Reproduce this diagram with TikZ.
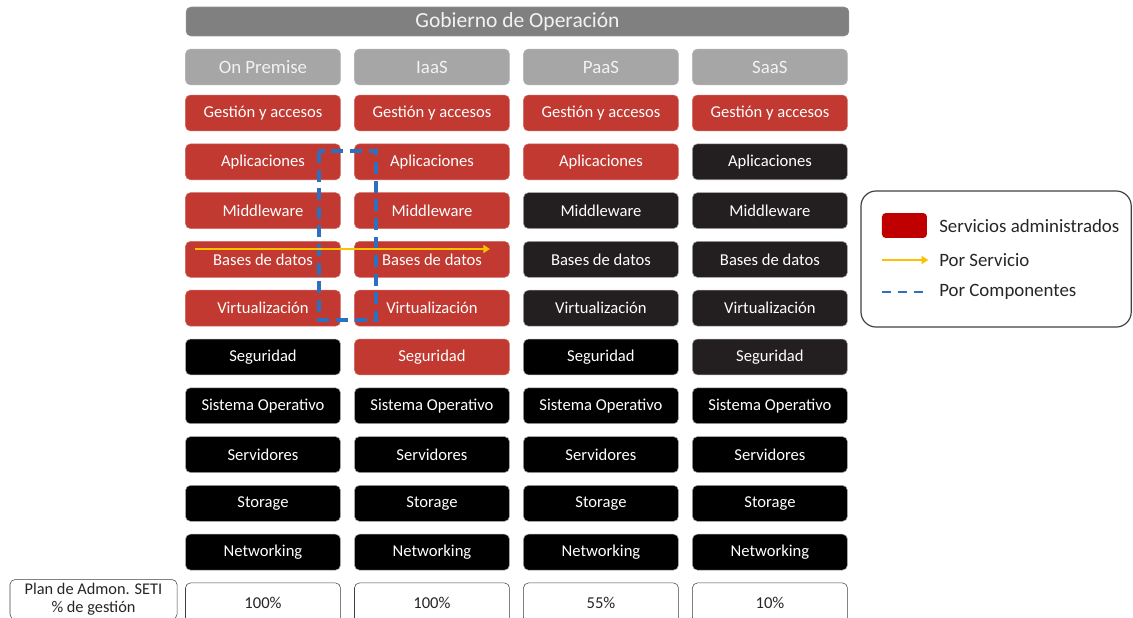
\documentclass[tikz,border=0pt]{standalone}
\usepackage{fontspec}
\setmainfont{Carlito}
\usetikzlibrary{arrows.meta,positioning}

\definecolor{rojo}{RGB}{193,57,48}
\definecolor{rojoley}{RGB}{192,0,0}
\definecolor{oscuro}{RGB}{35,31,32}
\definecolor{gris}{RGB}{166,166,166}
\definecolor{grisosc}{RGB}{128,128,128}
\definecolor{naranja}{RGB}{255,192,0}
\definecolor{azul}{RGB}{46,112,192}

\begin{document}
\begin{tikzpicture}[-,auto,node distance=1.291cm,
                    box/.style={rectangle, rounded corners=0.13cm, minimum width=4.1cm,
                      minimum height=0.95cm, inner sep=0pt, text=white,
                      font=\fontsize{12.5}{14}\selectfont},
                    red box/.style={box, fill=rojo, draw=rojo!75!white},
                    black box/.style={box, fill=black, draw=gray!70},
                    dark box/.style={box, fill=oscuro, draw=gray!70},
                    head box/.style={box, fill=gris, draw=gris!85!white, text=white!95!black,
                      font=\fontsize{14.2}{16}\selectfont},
                    pct box/.style={box, fill=white, draw=black!75, text=black!85,
                      minimum height=1.05cm},
                    serv/.style={draw=naranja, line width=2pt, -{Triangle[length=5pt,width=6pt]}},
                    comp/.style={draw=azul, line width=2.4pt, dash pattern=on 9pt off 5pt},
                    ley text/.style={anchor=west, inner sep=0pt, text=black!85,
                      font=\fontsize{14.2}{16}\selectfont}]

  \useasboundingbox (0,0) rectangle (29.977,-16.351);

  %Gobierno%
  \node[box, fill=grisosc, draw=grisosc!85!white, minimum width=17.54cm, minimum height=0.767cm,
        text=white!95!black, font=\fontsize{16.2}{18}\selectfont] (gob) at (13.692,-0.569) {Gobierno de Operación};

  %Modelos%
  \node[head box] (h1) at (6.958,-1.773) {On Premise};
  \node[head box] (h2) [right of=h1, node distance=4.471cm] {IaaS};
  \node[head box] (h3) [right of=h2, node distance=4.471cm] {PaaS};
  \node[head box] (h4) [right of=h3, node distance=4.471cm] {SaaS};

  \foreach \c in {1,...,4}
    \node[red box] (g\c) [below of=h\c, node distance=1.217cm] {Gestión y accesos};

  %On Premise%
  \node[red box] (a1) [below of=g1] {Aplicaciones};
  \node[red box] (m1) [below of=a1] {Middleware};
  \node[red box] (b1) [below of=m1] {Bases de datos};
  \node[red box] (v1) [below of=b1] {Virtualización};
  \node[black box] (se1) [below of=v1] {Seguridad};

  %IaaS%
  \node[red box] (a2) [below of=g2] {Aplicaciones};
  \node[red box] (m2) [below of=a2] {Middleware};
  \node[red box] (b2) [below of=m2] {Bases de datos};
  \node[red box] (v2) [below of=b2] {Virtualización};
  \node[red box] (se2) [below of=v2] {Seguridad};

  %PaaS%
  \node[red box] (a3) [below of=g3] {Aplicaciones};
  \node[dark box] (m3) [below of=a3] {Middleware};
  \node[dark box] (b3) [below of=m3] {Bases de datos};
  \node[dark box] (v3) [below of=b3] {Virtualización};
  \node[black box] (se3) [below of=v3] {Seguridad};

  %SaaS%
  \node[dark box] (a4) [below of=g4] {Aplicaciones};
  \node[dark box] (m4) [below of=a4] {Middleware};
  \node[dark box] (b4) [below of=m4] {Bases de datos};
  \node[dark box] (v4) [below of=b4] {Virtualización};
  \node[dark box] (se4) [below of=v4] {Seguridad};

  %Infraestructura%
  \foreach \c/\p in {1/100\%,2/100\%,3/55\%,4/10\%} {
    \node[black box] (so\c) [below of=se\c] {Sistema Operativo};
    \node[black box] (sv\c) [below of=so\c] {Servidores};
    \node[black box] (st\c) [below of=sv\c] {Storage};
    \node[black box] (nw\c) [below of=st\c] {Networking};
    \node[pct box] (p\c) [below of=nw\c, node distance=1.34cm] {\p};
  }

  \node[pct box, minimum width=4.419cm, align=center, font=\fontsize{12.3}{13.6}\selectfont]
    (plan) at (2.474,-15.86) {Plan de Admon. SETI\\\% de gestión};

  %Por Servicio / Por Componentes%
  \coordinate (s0) at (5.159,-6.588);
  \coordinate (s1) at (12.964,-6.588);
  \coordinate (c0) at (8.440,-3.995);
  \coordinate (c1) at (9.948,-8.467);
  \draw[comp] (c0) rectangle (c1);
  \draw[serv] (s0) -- (s1);

  %Leyenda%
  \node[draw=black!75, line width=0.9pt, rounded corners=0.4cm, minimum width=7.15cm,
        minimum height=3.6cm] (ley) at (26.355,-6.853) {};
  \node[fill=rojoley, rounded corners=0.1cm, minimum width=1.19cm, minimum height=0.66cm,
        inner sep=0pt] (sw) at (23.93,-5.967) {};
  \node[ley text] (t1) at (24.844,-5.967) {Servicios administrados};
  \node[ley text] (t2) at (24.844,-6.879) {Por Servicio};
  \node[ley text] (t3) at (24.844,-7.726) {Por Componentes};
  \coordinate (l0) at (23.336,-6.879);
  \coordinate (l1) at (24.56,-6.879);
  \coordinate (l2) at (23.336,-7.726);
  \coordinate (l3) at (24.56,-7.726);
  \draw[serv, line width=1.4pt] (l0) -- (l1);
  \draw[comp, line width=2pt, dash pattern=on 7pt off 5pt] (l2) -- (l3);
\end{tikzpicture}
\end{document}
